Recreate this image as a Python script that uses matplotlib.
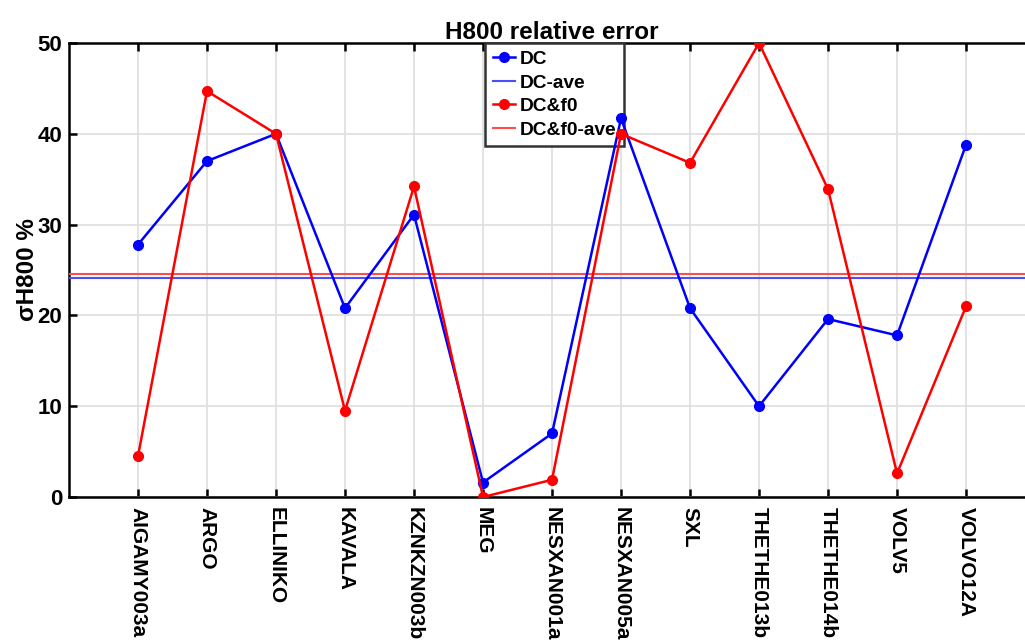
import matplotlib
matplotlib.use("Agg")
import matplotlib.pyplot as plt
import numpy as np

plt.rcParams['font.family'] = ['Liberation Sans', 'DejaVu Sans']
plt.rcParams['font.weight'] = 'bold'

stations = ["AIGAMY003a", "ARGO", "ELLINIKO", "KAVALA", "KZNKZN003b", "MEG",
            "NESXAN001a", "NESXAN005a", "SXL", "THETHE013b", "THETHE014b",
            "VOLV5", "VOLVO12A"]
dc = [27.8, 37.0, 40.0, 20.8, 31.1, 1.6, 7.0, 41.7, 20.8, 10.0, 19.6, 17.8, 38.8]
dcf0 = [4.5, 44.7, 40.0, 9.5, 34.2, 0.0, 1.9, 40.0, 36.8, 50.0, 33.9, 2.6, 21.0]

x = np.arange(1, len(stations) + 1)

fig = plt.figure(figsize=(10.25, 6.41), dpi=100)
ax = fig.add_axes([0.0673, 0.2246, 0.9425, 0.7083])

ax.plot(x, dc, '-o', color='#0000ff', lw=1.8, ms=7, label='DC', zorder=4)
ax.axhline(np.mean(dc), color='#4d4dff', lw=1.5, label='DC-ave', zorder=3)
ax.plot(x, dcf0, '-o', color='#ff0000', lw=1.8, ms=7, label='DC&f0', zorder=4)
ax.axhline(np.mean(dcf0), color='#ff4d4d', lw=1.5, label='DC&f0-ave', zorder=3)

ax.set_xlim(0, 14)
ax.set_ylim(0, 50)
ax.set_xticks(x)
ax.set_xticklabels(stations, rotation=270, fontsize=15, fontweight='bold')
ax.set_yticks([0, 10, 20, 30, 40, 50])
ax.tick_params(axis='y', labelsize=16, direction='in', length=6, width=1.8, right=True, pad=5)
ax.tick_params(axis='x', direction='in', length=6, width=1.8, top=True, pad=7)
for lab in ax.get_yticklabels():
    lab.set_fontweight('bold')
ax.grid(True, color='#e0e0e0', lw=1.3)
ax.set_axisbelow(True)
for s in ax.spines.values():
    s.set_linewidth(1.8)

ax.set_title('H800 relative error', fontsize=17.5, fontweight='bold', pad=3)
ax.set_ylabel('σH800 %', fontsize=17.5, fontweight='bold', labelpad=-1)

leg = ax.legend(loc='upper left', bbox_to_anchor=(0.4305, 1.0), fontsize=13.8,
                frameon=True, fancybox=False, edgecolor='#333333', framealpha=1,
                handlelength=1.15, handletextpad=0.25, borderpad=0.4,
                labelspacing=0.32, borderaxespad=0)
leg.get_frame().set_linewidth(1.8)
leg.set_zorder(3.5)
for t in leg.get_texts():
    t.set_fontweight('bold')

fig.savefig('out.png', dpi=100)
